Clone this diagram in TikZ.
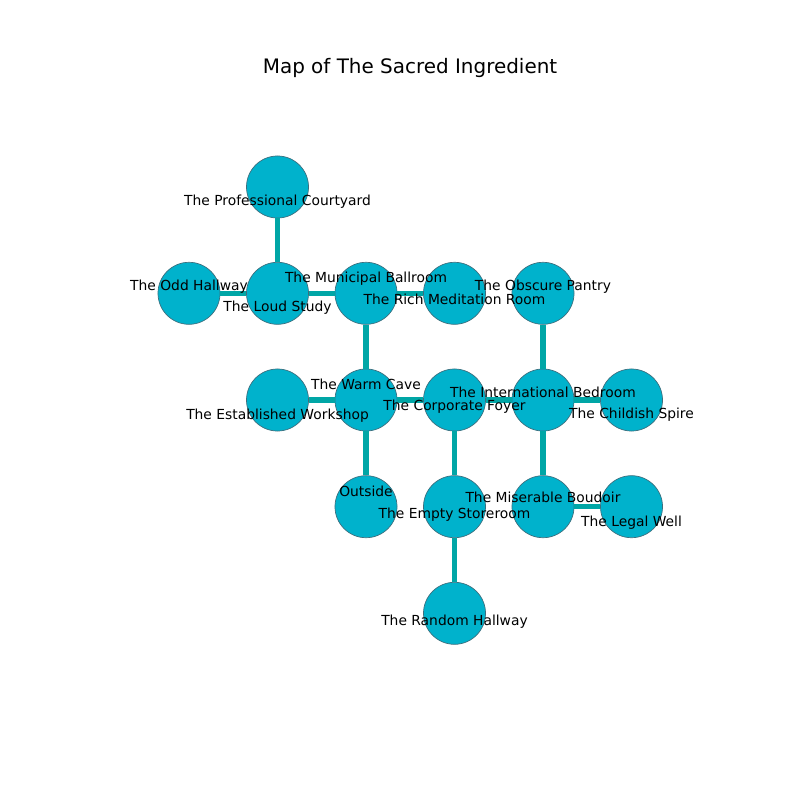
\documentclass[tikz,border=0pt]{standalone}
\usepackage{fontspec}
\setmainfont{DejaVu Sans}
\usetikzlibrary{positioning}
\definecolor{roomfill}{RGB}{0,178,204}
\definecolor{roomline}{RGB}{60,110,125}
\definecolor{linkcol}{RGB}{0,166,166}

\begin{document}
\begin{tikzpicture}[x=0.01in, y=-0.01in,
        room/.style={draw=roomline, fill=roomfill, circle, line width=0.5pt, minimum size=0.62in, inner sep=0pt},
        link/.style={draw=linkcol, line width=3.7pt},
        txt/.style={anchor=base, inner sep=0pt, font=\fontsize{10}{12}\selectfont}]
        \useasboundingbox (0,0) rectangle (800,800);
        \node[anchor=base, font=\fontsize{14.4}{17}\selectfont] (title) at (410,74) {Map of The Sacred Ingredient};

        % rooms
        \node[room] (pc) at (277.5,187) {};
        \node[room] (oh) at (189,293.3) {};
        \node[room] (ls) at (277.5,293.3) {};
        \node[room] (mb) at (366,293.3) {};
        \node[room] (rm) at (454.5,293.3) {};
        \node[room] (op) at (543,293.3) {};
        \node[room] (ew) at (277.5,400) {};
        \node[room] (wc) at (366,400) {};
        \node[room] (cf) at (454.5,400) {};
        \node[room] (ib) at (543,400) {};
        \node[room] (cs) at (631.5,400) {};
        \node[room] (out) at (366,506.7) {};
        \node[room] (es) at (454.5,506.7) {};
        \node[room] (mbo) at (543,506.7) {};
        \node[room] (lw) at (631.5,506.7) {};
        \node[room] (rh) at (454.5,613.3) {};

        % corridors
        \draw[link] (pc) -- (ls);
        \draw[link] (oh) -- (ls);
        \draw[link] (ls) -- (mb);
        \draw[link] (mb) -- (rm);
        \draw[link] (mb) -- (wc);
        \draw[link] (op) -- (ib);
        \draw[link] (ew) -- (wc);
        \draw[link] (wc) -- (cf);
        \draw[link] (cf) -- (ib);
        \draw[link] (ib) -- (cs);
        \draw[link] (wc) -- (out);
        \draw[link] (cf) -- (es);
        \draw[link] (ib) -- (mbo);
        \draw[link] (mbo) -- (lw);
        \draw[link] (es) -- (rh);

        % names
        \node[txt, shift={(0,19)}] (tpc) at (pc) {The Professional Courtyard};
        \node[txt, shift={(0,-3.3)}] (toh) at (oh) {The Odd Hallway};
        \node[txt, shift={(0,18)}] (tls) at (ls) {The Loud Study};
        \node[txt, shift={(0,-11.3)}] (tmb) at (mb) {The Municipal Ballroom};
        \node[txt, shift={(0,11.4)}] (trm) at (rm) {The Rich Meditation Room};
        \node[txt, shift={(0,-3.3)}] (top) at (op) {The Obscure Pantry};
        \node[txt, shift={(0,19)}] (tew) at (ew) {The Established Workshop};
        \node[txt, shift={(0,-10.7)}] (twc) at (wc) {The Warm Cave};
        \node[txt, shift={(0,10.7)}] (tcf) at (cf) {The Corporate Foyer};
        \node[txt, shift={(0,-2.7)}] (tib) at (ib) {The International Bedroom};
        \node[txt, shift={(0,18.7)}] (tcs) at (cs) {The Childish Spire};
        \node[txt, shift={(0,-10.7)}] (tout) at (out) {Outside};
        \node[txt, shift={(0,11.3)}] (tes) at (es) {The Empty Storeroom};
        \node[txt, shift={(0,-4)}] (tmbo) at (mbo) {The Miserable Boudoir};
        \node[txt, shift={(0,19.3)}] (tlw) at (lw) {The Legal Well};
        \node[txt, shift={(0,11.7)}] (trh) at (rh) {The Random Hallway};
    \end{tikzpicture}
\end{document}
